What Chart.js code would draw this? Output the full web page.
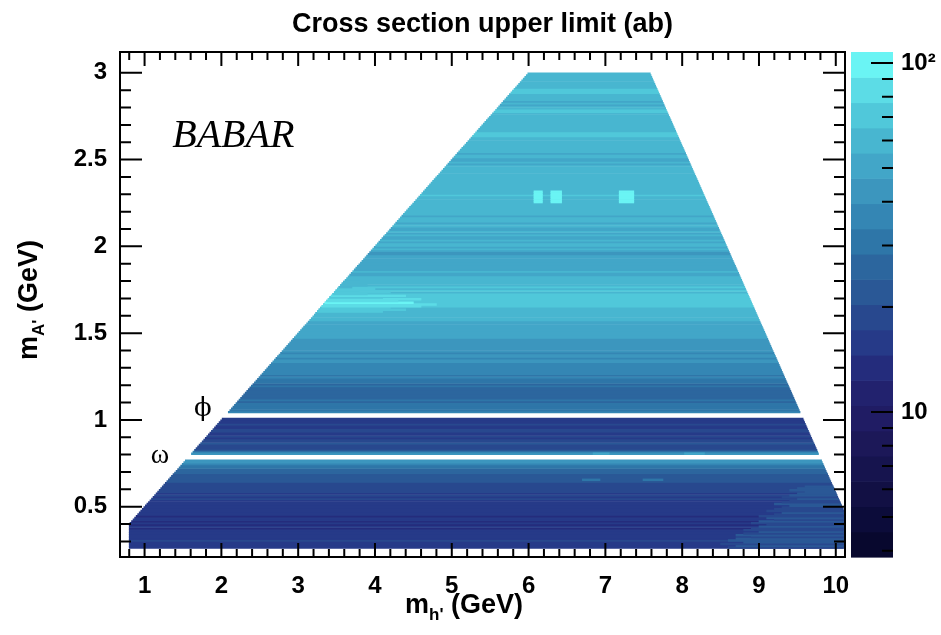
<!DOCTYPE html>
<html>
<head>
<meta charset="utf-8">
<script src="https://cdn.jsdelivr.net/npm/chart.js@4.4.1/dist/chart.umd.min.js"></script>
<style>
  html, body { margin: 0; padding: 0; background: #fff; }
</style>
</head>
<body>
<canvas id="myChart" width="941" height="635"></canvas>
<script>
// m_A' rows: centre of the first bin and bin width (GeV)
var rowFirst = 0.265;
var rowStep = 0.01;

// cross section upper limit (ab) for each m_A' row, bottom to top
// null = vetoed region (omega and phi)
var upperLimit = [
  16.5, 17, 15.5, 16.5, 17.5, 15.5, 16.5, 15, 17, 16,    // 0.26
  15.5, 14.5, 16, 14.5, 15.5, 13.5, 15, 16, 14.5, 15.5,  // 0.36
  15, 16, 15.5, 16.5, 15.5, 17, 16, 17, 17.5, 16.5,      // 0.46
  17.5, 17, 18, 18.5, 17.5, 19, 19.5, 20, 21, 22,        // 0.56
  21.5, 23, 22, 24.5, 26, 28, 30, 32, 35, 40,            // 0.66
  45, null, null, null, 42, 36, 24, 19, 17.5, 18.5,      // 0.76
  22, 20, 17.5, 16.5, 18, 17, 16, 17.5, 18.5, 17,        // 0.86
  16.5, 17.5, 16, 15.5, 16.5, null, null, null, 36, 31,  // 0.96
  30, 32, 29, 31, 28, 30, 27, 25, 26, 27,                // 1.06
  25, 27, 26, 29, 28, 31, 33, 32, 34, 33,                // 1.16
  36, 38, 35, 37, 39, 36, 38, 40, 41, 38,                // 1.26
  40, 42, 39, 41, 43, 40, 42, 44, 45, 43,                // 1.36
  46, 48, 50, 47, 52, 53, 50, 54, 52, 55,                // 1.46
  53, 57, 60, 58, 62, 59, 61, 64, 62, 68,                // 1.56
  76, 72, 70, 74, 68, 71, 66, 64, 67, 63,                // 1.66
  66, 63, 65, 61, 64, 60, 58, 55, 53, 56,                // 1.76
  53, 55, 51, 49, 52, 50, 53, 51, 48, 44,                // 1.86
  46, 54, 57, 53, 58, 56, 52, 57, 55, 51,                // 1.96
  56, 53, 57, 50, 55, 58, 56, 52, 57, 59,                // 2.06
  58, 55, 60, 57, 59, 56, 61, 58, 62, 60,                // 2.16
  63, 65, 62, 66, 64, 63, 60, 62, 59, 61,                // 2.26
  60, 58, 62, 59, 61, 63, 60, 58, 61, 59,                // 2.36
  57, 53, 56, 51, 55, 58, 56, 52, 57, 59,                // 2.46
  56, 59, 57, 60, 58, 62, 65, 67, 69, 66,                // 2.56
  62, 60, 63, 59, 61, 58, 62, 60, 57, 61,                // 2.66
  59, 75, 71, 61, 58, 55, 59, 52, 57, 60,                // 2.76
  56, 59, 67, 71, 69, 65, 62, 59, 61, 58,                // 2.86
  60, 57, 62, 59                                         // 2.96
];

// lighter left end of the rows around 1.6-1.8 GeV: row limit and where it stops in m_h'
var leftBandFirst = 1.615;
var leftBand = [62, 66, 70, 76, 82, 88, 92, 86, 80, 74, 78, 72, 70, 66, 68, 64, 62, 60, 63];
var leftBandTo = [3.9, 4.1, 4.4, 4.2, 4.6, 4.8, 4.5, 4.3, 4.6, 4.1, 4.4, 3.9, 4.2, 3.8, 4.0, 3.7, 3.9, 3.6, 3.8];

// lighter bottom-right corner, rows from 0.265 GeV: where it starts in m_h' and its limit
var cornerFirst = 0.265;
var cornerFrom = [8.6, 8.7, 8.5, 8.8, 8.6, 8.7, 8.9, 8.7, 8.8, 9.0, 8.8, 8.9, 9.0, 9.1, 8.9, 9.0, 9.2, 9.1,
                  9.0, 9.2, 9.3, 9.1, 9.2, 9.3, 9.4, 9.2, 9.3, 9.4, 9.5, 9.3, 9.4, 9.5, 9.6, 9.4, 9.5, 9.6];
var cornerLimit = [20, 21, 19.5, 22, 20.5, 21, 19.5, 21, 20, 21.5, 20, 19.5, 21, 19, 20, 21, 19.5, 20.5,
                   19, 20, 21, 19.5, 20, 19, 20.5, 21, 19.5, 20, 21, 20, 21, 22, 21, 22, 23, 23.5];

// scan limits: m_h' > 2 m_A', m_h' + m_A' < sqrt(s)
var mhMin = 0.8;
var mhMax = 10.1;
var sqrtS = 10.58;

// single bins that stand out from their row
var cellMh = [[6.07, 6.18], [6.29, 6.43], [7.18, 7.37], [6.84, 7.05], [8.03, 8.29], [6.70, 6.93], [7.49, 7.75]];
var cellMa = [[2.25, 2.32], [2.25, 2.32], [2.25, 2.32], [0.80, 0.81], [0.80, 0.81], [0.65, 0.66], [0.65, 0.66]];
var cellLimit = [100, 100, 100, 55, 55, 33, 33];

// axes
var xTicks = [1, 2, 3, 4, 5, 6, 7, 8, 9, 10];
var yTicks = [0.5, 1, 1.5, 2, 2.5, 3];
var zTicks = [10, 100];
var zLabels = ['10', '10\u00B2'];
var zMinor = [4, 5, 6, 7, 8, 9, 20, 30, 40, 50, 60, 70, 80, 90];
var zRange = [3.84, 107.5];
var palette = ['#08082e', '#0c0c3a', '#121044', '#16144e', '#1c1858', '#201c64', '#22226e', '#242c7c', '#263a88', '#28488e',
               '#2a5896', '#2c669e', '#2e76a8', '#3486b4', '#3c96be', '#42a6c8', '#48b6d0', '#50c8da', '#5cdce6', '#6af4f4'];

function zColor(v) {
  var lo = Math.log10(zRange[0]), hi = Math.log10(zRange[1]);
  var k = Math.floor((Math.log10(v) - lo) / (hi - lo) * palette.length);
  return palette[Math.max(0, Math.min(palette.length - 1, k))];
}
function rowLeft(y) { return Math.max(mhMin, 2 * y); }
function rowRight(y) { return Math.min(mhMax, sqrtS - y); }

var rows = upperLimit.map(function (v, i) { return +(rowFirst + i * rowStep).toFixed(3); });

var rowData = [];
rows.forEach(function (y, i) {
  if (upperLimit[i] === null) return;
  rowData.push({ y: y, x: [rowLeft(y), rowRight(y)], v: upperLimit[i] });
});

var patchData = [];
function addPiece(i, from, to, v) {
  if (upperLimit[i] === null) return;
  var y = rows[i];
  var a = Math.max(from, rowLeft(y)), b = Math.min(to, rowRight(y));
  if (b > a) patchData.push({ y: y, x: [a, b], v: v });
}
var lb = Math.round((leftBandFirst - rowFirst) / rowStep);
leftBand.forEach(function (v, k) { addPiece(lb + k, 0, leftBandTo[k], v); });
var cb = Math.round((cornerFirst - rowFirst) / rowStep);
cornerLimit.forEach(function (v, k) { addPiece(cb + k, cornerFrom[k], 20, v); });
cellLimit.forEach(function (v, p) {
  rows.forEach(function (y, i) {
    if (y >= cellMa[p][0] && y <= cellMa[p][1]) addPiece(i, cellMh[p][0], cellMh[p][1], v);
  });
});

var bold = { family: "'Liberation Sans', Arial, sans-serif", size: 24, weight: 'bold' };

function line(ctx, x0, y0, x1, y1) { ctx.moveTo(x0, y0); ctx.lineTo(x1, y1); }
function noPad(s) { s.paddingTop = 0; s.paddingBottom = 0; s.paddingLeft = 0; s.paddingRight = 0; }

// ROOT-like frame, inward ticks, colour bar and labels
var rootStyle = {
  id: 'rootStyle',
  afterDatasetsDraw: function (chart) {
    var ctx = chart.ctx, a = chart.chartArea;
    var sx = chart.scales.x, sy = chart.scales.y, sz = chart.scales.z;
    ctx.save();

    // colour bar
    var lo = Math.log10(zRange[0]), hi = Math.log10(zRange[1]);
    var bx0 = a.right + 6, bx1 = a.right + 48;
    palette.forEach(function (col, k) {
      var yb = sz.getPixelForValue(Math.pow(10, lo + (hi - lo) * k / palette.length));
      var yt = sz.getPixelForValue(Math.pow(10, lo + (hi - lo) * (k + 1) / palette.length));
      ctx.fillStyle = col;
      ctx.fillRect(bx0, yt, bx1 - bx0, yb - yt + 0.6);
    });

    ctx.strokeStyle = '#000';
    ctx.lineWidth = 2;
    ctx.beginPath();
    var v, p, len;
    for (v = 0.8; v <= 10.05; v += 0.2) {
      var r = Math.round(v * 10) / 10;
      p = sx.getPixelForValue(r);
      len = Math.abs(r - Math.round(r)) < 1e-6 ? 14 : 8;
      line(ctx, p, a.bottom, p, a.bottom - len);
      line(ctx, p, a.top, p, a.top + len);
    }
    for (v = 0.3; v <= 3.05; v += 0.1) {
      var q = Math.round(v * 10) / 10;
      p = sy.getPixelForValue(q);
      len = Math.abs(q * 2 - Math.round(q * 2)) < 1e-6 ? 22 : 11;
      line(ctx, a.left, p, a.left + len, p);
      line(ctx, a.right, p, a.right - len, p);
    }
    zTicks.forEach(function (t) { var pz = sz.getPixelForValue(t); line(ctx, bx1, pz, bx1 - 22, pz); });
    zMinor.forEach(function (t) {
      if (t < zRange[0]) return;
      var pz = sz.getPixelForValue(t); line(ctx, bx1, pz, bx1 - 11, pz);
    });
    ctx.stroke();
    ctx.strokeRect(a.left, a.top, a.right - a.left, a.bottom - a.top);

    // title
    ctx.fillStyle = '#000';
    ctx.textAlign = 'center';
    ctx.textBaseline = 'alphabetic';
    ctx.font = "bold 27px 'Liberation Sans', Arial, sans-serif";
    ctx.fillText('Cross section upper limit (ab)', (a.left + a.right) / 2, 32);

    // axis titles with subscripts
    function subTitle(parts, cx, cy, rotate) {
      ctx.save();
      ctx.translate(cx, cy);
      if (rotate) ctx.rotate(-Math.PI / 2);
      var fonts = ["bold 27px 'Liberation Sans', Arial, sans-serif", "bold 17px 'Liberation Sans', Arial, sans-serif", "bold 27px 'Liberation Sans', Arial, sans-serif"];
      var shifts = [0, 7, 0];
      var w = 0, widths = [];
      parts.forEach(function (t, i) { ctx.font = fonts[i]; widths.push(ctx.measureText(t).width); w += widths[i]; });
      var x = -w / 2;
      ctx.textAlign = 'left';
      parts.forEach(function (t, i) { ctx.font = fonts[i]; ctx.fillText(t, x, shifts[i]); x += widths[i]; });
      ctx.restore();
    }
    subTitle(['m', "h'", ' (GeV)'], 464, 613, false);
    subTitle(['m', "A'", ' (GeV)'], 37, 300, true);

    // annotations in data coordinates
    ctx.textAlign = 'left';
    ctx.font = "italic 40px 'Liberation Serif', 'Times New Roman', serif";
    ctx.fillText('BABAR', sx.getPixelForValue(1.36), sy.getPixelForValue(2.573));
    ctx.textAlign = 'center';
    ctx.textBaseline = 'middle';
    ctx.font = "26px 'DejaVu Serif', 'Liberation Serif', serif";
    ctx.fillText('\u03D5', sx.getPixelForValue(1.76), sy.getPixelForValue(1.06));
    ctx.font = "28px 'Liberation Serif', 'Times New Roman', serif";
    ctx.fillText('\u03C9', sx.getPixelForValue(1.2), sy.getPixelForValue(0.795));
    ctx.restore();
  }
};

var ctx = document.getElementById('myChart');
var myChart = new Chart(ctx, {
  type: 'bar',
  data: {
    datasets: [
      {
        label: 'patches',
        data: patchData,
        order: 0,
        backgroundColor: function (c) { return c.raw ? zColor(c.raw.v) : '#000'; }
      },
      {
        label: 'upper limit',
        data: rowData,
        order: 1,
        backgroundColor: function (c) { return c.raw ? zColor(c.raw.v) : '#000'; }
      }
    ]
  },
  options: {
    indexAxis: 'y',
    responsive: false,
    animation: false,
    events: [],
    layout: { padding: { top: 52 } },
    datasets: { bar: { grouped: false, barPercentage: 1, categoryPercentage: 1, borderWidth: 0 } },
    plugins: { legend: { display: false }, tooltip: { enabled: false }, title: { display: false } },
    scales: {
      x: {
        type: 'linear', position: 'bottom', min: 0.68, max: 10.12, offset: false,
        grid: { display: false, drawTicks: false }, border: { display: false },
        afterBuildTicks: function (s) { s.ticks = xTicks.map(function (t) { return { value: t }; }); },
        ticks: { color: '#000', font: bold, padding: 15, maxRotation: 0, autoSkip: false, callback: function (t) { return String(t); } },
        afterFit: function (s) { s.height = 78; noPad(s); }
      },
      y: {
        type: 'linear', position: 'left', min: 0.21, max: 3.12, offset: false,
        grid: { display: false, drawTicks: false }, border: { display: false },
        afterBuildTicks: function (s) { s.ticks = yTicks.map(function (t) { return { value: t }; }); },
        ticks: { color: '#000', font: bold, padding: 13, autoSkip: false, callback: function (t) { return String(t); } },
        afterFit: function (s) { s.width = 120; noPad(s); }
      },
      z: {
        type: 'logarithmic', axis: 'y', position: 'right', min: zRange[0], max: zRange[1], offset: false,
        grid: { display: false, drawTicks: false }, border: { display: false },
        afterBuildTicks: function (s) { s.ticks = zTicks.map(function (t) { return { value: t }; }); },
        ticks: { color: '#000', font: bold, padding: 56, autoSkip: false, callback: function (t) { return zLabels[zTicks.indexOf(t)]; } },
        afterFit: function (s) { s.width = 96; noPad(s); }
      }
    }
  },
  plugins: [rootStyle]
});
</script>
</body>
</html>
